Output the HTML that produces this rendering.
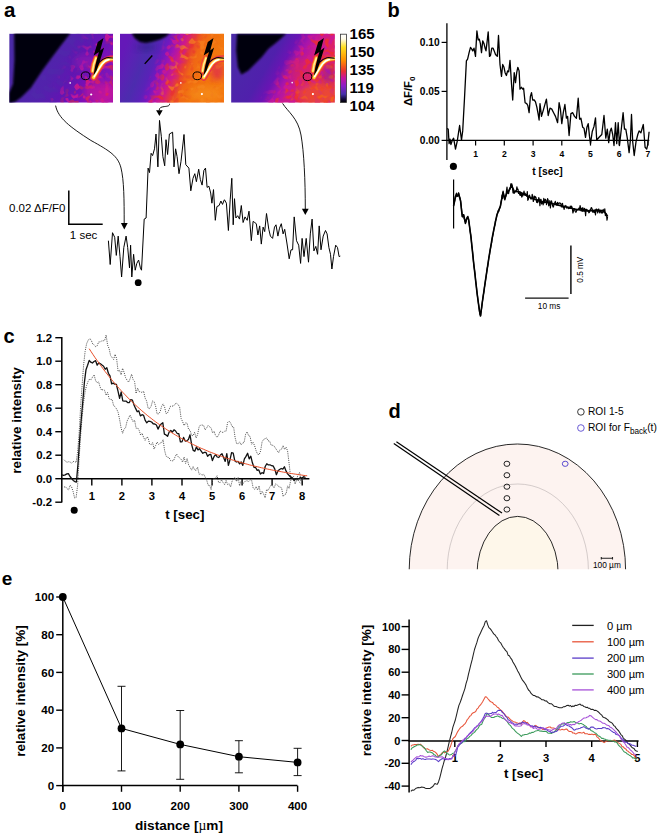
<!DOCTYPE html>
<html><head><meta charset="utf-8"><style>
html,body{margin:0;padding:0;background:#fff;}
body{width:660px;height:838px;overflow:hidden;}
svg{display:block;}
text{font-family:"Liberation Sans",sans-serif;fill:#000;}
</style></head><body>
<svg width="660" height="838" viewBox="0 0 660 838">
<defs>
<linearGradient id="cbar" x1="0" y1="0" x2="0" y2="1">
 <stop offset="0" stop-color="#ffffff"/><stop offset="0.07" stop-color="#fffbe8"/>
 <stop offset="0.19" stop-color="#ffe020"/><stop offset="0.38" stop-color="#ff9000"/>
 <stop offset="0.54" stop-color="#ea3030"/><stop offset="0.64" stop-color="#c8149c"/>
 <stop offset="0.76" stop-color="#8a1cc8"/><stop offset="0.88" stop-color="#4430a8"/>
 <stop offset="0.95" stop-color="#140a40"/><stop offset="1" stop-color="#000"/>
</linearGradient>
<filter id="blur1" x="-20%" y="-20%" width="140%" height="140%"><feGaussianBlur stdDeviation="1.2"/></filter>
<filter id="blur2" x="-30%" y="-30%" width="160%" height="160%"><feGaussianBlur stdDeviation="3"/></filter>
<filter id="blur4" x="-50%" y="-50%" width="200%" height="200%"><feGaussianBlur stdDeviation="5"/></filter>
<linearGradient id="g1" gradientUnits="userSpaceOnUse" x1="9.2" y1="68" x2="112.8" y2="68" gradientTransform="rotate(30,61,68)"><stop offset="0" stop-color="#4a2aa8"/><stop offset="0.45" stop-color="#5222ac"/><stop offset="0.62" stop-color="#6016b2"/><stop offset="0.78" stop-color="#7410b8"/><stop offset="0.92" stop-color="#9012b8"/><stop offset="1" stop-color="#a814b0"/></linearGradient><linearGradient id="g2" gradientUnits="userSpaceOnUse" x1="120.1" y1="68" x2="223.6" y2="68" gradientTransform="rotate(22,172,68)"><stop offset="0" stop-color="#6418b8"/><stop offset="0.1" stop-color="#5a22b4"/><stop offset="0.22" stop-color="#4c2cae"/><stop offset="0.32" stop-color="#5a22b8"/><stop offset="0.38" stop-color="#7218c0"/><stop offset="0.46" stop-color="#a814b0"/><stop offset="0.53" stop-color="#d41c80"/><stop offset="0.6" stop-color="#e84030"/><stop offset="0.67" stop-color="#f06616"/><stop offset="0.78" stop-color="#f2740e"/><stop offset="1" stop-color="#f47a10"/></linearGradient><linearGradient id="g3" gradientUnits="userSpaceOnUse" x1="231.1" y1="68" x2="334.6" y2="68" gradientTransform="rotate(30,283,68)"><stop offset="0" stop-color="#4a2aa8"/><stop offset="0.36" stop-color="#5020ac"/><stop offset="0.48" stop-color="#6a14b4"/><stop offset="0.58" stop-color="#a814ac"/><stop offset="0.68" stop-color="#cc1a8c"/><stop offset="0.8" stop-color="#dc2268"/><stop offset="1" stop-color="#e43050"/></linearGradient><filter id="sm1" x="0" y="0" width="1" height="1" color-interpolation-filters="sRGB"><feTurbulence type="fractalNoise" baseFrequency="0.2" numOctaves="1" seed="3" result="n"/><feColorMatrix in="n" type="matrix" values="0 0 0 0 0.784 0 0 0 0 0.094 0 0 0 0 0.588 9.0 0 0 0 -5.040" result="c"/><feComposite in="c" in2="SourceAlpha" operator="in"/></filter><filter id="sr1" x="0" y="0" width="1" height="1" color-interpolation-filters="sRGB"><feTurbulence type="fractalNoise" baseFrequency="0.2" numOctaves="1" seed="7" result="n"/><feColorMatrix in="n" type="matrix" values="0 0 0 0 0.910 0 0 0 0 0.157 0 0 0 0 0.235 9.0 0 0 0 -5.040" result="c"/><feComposite in="c" in2="SourceAlpha" operator="in"/></filter><filter id="so1" x="0" y="0" width="1" height="1" color-interpolation-filters="sRGB"><feTurbulence type="fractalNoise" baseFrequency="0.2" numOctaves="1" seed="11" result="n"/><feColorMatrix in="n" type="matrix" values="0 0 0 0 0.957 0 0 0 0 0.431 0 0 0 0 0.078 9.0 0 0 0 -5.220" result="c"/><feComposite in="c" in2="SourceAlpha" operator="in"/></filter><filter id="sb1" x="0" y="0" width="1" height="1" color-interpolation-filters="sRGB"><feTurbulence type="fractalNoise" baseFrequency="0.16" numOctaves="1" seed="5" result="n"/><feColorMatrix in="n" type="matrix" values="0 0 0 0 0.314 0 0 0 0 0.157 0 0 0 0 0.667 9.0 0 0 0 -4.500" result="c"/><feComposite in="c" in2="SourceAlpha" operator="in"/></filter><filter id="sm2" x="0" y="0" width="1" height="1" color-interpolation-filters="sRGB"><feTurbulence type="fractalNoise" baseFrequency="0.2" numOctaves="1" seed="13" result="n"/><feColorMatrix in="n" type="matrix" values="0 0 0 0 0.784 0 0 0 0 0.094 0 0 0 0 0.588 9.0 0 0 0 -4.680" result="c"/><feComposite in="c" in2="SourceAlpha" operator="in"/></filter><filter id="sr2" x="0" y="0" width="1" height="1" color-interpolation-filters="sRGB"><feTurbulence type="fractalNoise" baseFrequency="0.2" numOctaves="1" seed="17" result="n"/><feColorMatrix in="n" type="matrix" values="0 0 0 0 0.910 0 0 0 0 0.173 0 0 0 0 0.204 9.0 0 0 0 -4.950" result="c"/><feComposite in="c" in2="SourceAlpha" operator="in"/></filter><filter id="so2" x="0" y="0" width="1" height="1" color-interpolation-filters="sRGB"><feTurbulence type="fractalNoise" baseFrequency="0.2" numOctaves="1" seed="19" result="n"/><feColorMatrix in="n" type="matrix" values="0 0 0 0 0.965 0 0 0 0 0.510 0 0 0 0 0.118 9.0 0 0 0 -5.040" result="c"/><feComposite in="c" in2="SourceAlpha" operator="in"/></filter><filter id="sm3" x="0" y="0" width="1" height="1" color-interpolation-filters="sRGB"><feTurbulence type="fractalNoise" baseFrequency="0.2" numOctaves="1" seed="23" result="n"/><feColorMatrix in="n" type="matrix" values="0 0 0 0 0.800 0 0 0 0 0.094 0 0 0 0 0.588 9.0 0 0 0 -4.680" result="c"/><feComposite in="c" in2="SourceAlpha" operator="in"/></filter><filter id="sr3" x="0" y="0" width="1" height="1" color-interpolation-filters="sRGB"><feTurbulence type="fractalNoise" baseFrequency="0.2" numOctaves="1" seed="29" result="n"/><feColorMatrix in="n" type="matrix" values="0 0 0 0 0.925 0 0 0 0 0.173 0 0 0 0 0.220 9.0 0 0 0 -4.860" result="c"/><feComposite in="c" in2="SourceAlpha" operator="in"/></filter><filter id="so3" x="0" y="0" width="1" height="1" color-interpolation-filters="sRGB"><feTurbulence type="fractalNoise" baseFrequency="0.2" numOctaves="1" seed="31" result="n"/><feColorMatrix in="n" type="matrix" values="0 0 0 0 0.957 0 0 0 0 0.392 0 0 0 0 0.094 9.0 0 0 0 -5.130" result="c"/><feComposite in="c" in2="SourceAlpha" operator="in"/></filter><linearGradient id="a1m" gradientUnits="userSpaceOnUse" x1="9.2" y1="68" x2="112.8" y2="68" gradientTransform="rotate(30,61,68)"><stop offset="0" stop-color="#fff" stop-opacity="0"/><stop offset="0.5" stop-color="#fff" stop-opacity="0"/><stop offset="0.7" stop-color="#fff" stop-opacity="0.85"/><stop offset="1" stop-color="#fff" stop-opacity="1"/></linearGradient><linearGradient id="a1r" gradientUnits="userSpaceOnUse" x1="9.2" y1="68" x2="112.8" y2="68" gradientTransform="rotate(40,61,68)"><stop offset="0" stop-color="#fff" stop-opacity="0"/><stop offset="0.62" stop-color="#fff" stop-opacity="0"/><stop offset="0.85" stop-color="#fff" stop-opacity="0.7"/><stop offset="1" stop-color="#fff" stop-opacity="0.9"/></linearGradient><linearGradient id="a1b" gradientUnits="userSpaceOnUse" x1="9.2" y1="68" x2="112.8" y2="68" gradientTransform="rotate(30,61,68)"><stop offset="0" stop-color="#fff" stop-opacity="0"/><stop offset="0.25" stop-color="#fff" stop-opacity="0"/><stop offset="0.4" stop-color="#fff" stop-opacity="0.8"/><stop offset="0.6" stop-color="#fff" stop-opacity="0.3"/><stop offset="1" stop-color="#fff" stop-opacity="0"/></linearGradient><linearGradient id="a2m" gradientUnits="userSpaceOnUse" x1="120.1" y1="68" x2="223.6" y2="68" gradientTransform="rotate(20,172,68)"><stop offset="0" stop-color="#fff" stop-opacity="0"/><stop offset="0.32" stop-color="#fff" stop-opacity="0"/><stop offset="0.42" stop-color="#fff" stop-opacity="0.9"/><stop offset="0.54" stop-color="#fff" stop-opacity="0.5"/><stop offset="0.64" stop-color="#fff" stop-opacity="0"/><stop offset="1" stop-color="#fff" stop-opacity="0"/></linearGradient><linearGradient id="a2r" gradientUnits="userSpaceOnUse" x1="120.1" y1="68" x2="223.6" y2="68" gradientTransform="rotate(20,172,68)"><stop offset="0" stop-color="#fff" stop-opacity="0"/><stop offset="0.37" stop-color="#fff" stop-opacity="0"/><stop offset="0.49" stop-color="#fff" stop-opacity="0.9"/><stop offset="0.62" stop-color="#fff" stop-opacity="0.5"/><stop offset="0.74" stop-color="#fff" stop-opacity="0.1"/><stop offset="1" stop-color="#fff" stop-opacity="0.1"/></linearGradient><linearGradient id="a2o" gradientUnits="userSpaceOnUse" x1="120.1" y1="68" x2="223.6" y2="68" gradientTransform="rotate(20,172,68)"><stop offset="0" stop-color="#fff" stop-opacity="0"/><stop offset="0.44" stop-color="#fff" stop-opacity="0"/><stop offset="0.54" stop-color="#fff" stop-opacity="0.7"/><stop offset="1" stop-color="#fff" stop-opacity="0.6"/></linearGradient><linearGradient id="a3m" gradientUnits="userSpaceOnUse" x1="231.1" y1="68" x2="334.6" y2="68" gradientTransform="rotate(30,283,68)"><stop offset="0" stop-color="#fff" stop-opacity="0"/><stop offset="0.45" stop-color="#fff" stop-opacity="0"/><stop offset="0.6" stop-color="#fff" stop-opacity="0.9"/><stop offset="1" stop-color="#fff" stop-opacity="0.9"/></linearGradient><linearGradient id="a3r" gradientUnits="userSpaceOnUse" x1="231.1" y1="68" x2="334.6" y2="68" gradientTransform="rotate(30,283,68)"><stop offset="0" stop-color="#fff" stop-opacity="0"/><stop offset="0.5" stop-color="#fff" stop-opacity="0"/><stop offset="0.65" stop-color="#fff" stop-opacity="0.9"/><stop offset="1" stop-color="#fff" stop-opacity="1"/></linearGradient><linearGradient id="a3o" gradientUnits="userSpaceOnUse" x1="231.1" y1="68" x2="334.6" y2="68" gradientTransform="rotate(45,283,68)"><stop offset="0" stop-color="#fff" stop-opacity="0"/><stop offset="0.65" stop-color="#fff" stop-opacity="0"/><stop offset="0.85" stop-color="#fff" stop-opacity="0.7"/><stop offset="1" stop-color="#fff" stop-opacity="0.9"/></linearGradient><clipPath id="clip1"><rect x="9.2" y="33.6" width="103.8" height="69.1"/></clipPath><clipPath id="clip2"><rect x="120.0" y="33.6" width="104.0" height="69.1"/></clipPath><clipPath id="clip3"><rect x="231.1" y="33.6" width="103.8" height="69.1"/></clipPath><clipPath id="dclip"><rect x="380" y="380" width="280" height="189.2"/></clipPath></defs>
<text x="3.9" y="16.8" font-size="20.5" font-weight="bold" text-anchor="start" >a</text>
<text x="387.6" y="17.2" font-size="20" font-weight="bold" text-anchor="start" >b</text>
<text x="3.6" y="342.6" font-size="20" font-weight="bold" text-anchor="start" >c</text>
<text x="388.6" y="417.6" font-size="20" font-weight="bold" text-anchor="start" >d</text>
<text x="1.8" y="584.8" font-size="19" font-weight="bold" text-anchor="start" >e</text>
<g clip-path="url(#clip1)">
<rect x="9.2" y="33.6" width="103.8" height="69.1" fill="url(#g1)"/>
<rect x="9.2" y="33.6" width="103.6" height="69.1" fill="url(#a1b)" filter="url(#sb1)" opacity="1"/>
<rect x="9.2" y="33.6" width="103.6" height="69.1" fill="url(#a1m)" filter="url(#sm1)" opacity="1"/>
<rect x="9.2" y="33.6" width="103.6" height="69.1" fill="url(#a1r)" filter="url(#sr1)" opacity="1"/>
<ellipse cx="100" cy="92" rx="16" ry="11" fill="#d01890" opacity="0.55" filter="url(#blur2)"/>
<ellipse cx="86" cy="62" rx="12" ry="8" fill="#a014b0" opacity="0.5" filter="url(#blur2)"/>
<ellipse cx="108" cy="75" rx="6" ry="8" fill="#6a18c0" opacity="0.6" filter="url(#blur2)"/>
<circle cx="70.2" cy="82.9" r="0.9" fill="#fff" opacity="0.85"/>
<circle cx="91.2" cy="94.5" r="1.1" fill="#fff"/>
<polygon points="14.2,33.0 70.5,33.0 60.8,45.5 51.8,57.6 42.8,69.7 36.8,78.8 30.7,87.9 21.5,97.0 15.5,101.5 9.0,103.5 9.0,93.0 13.0,84.0 14.5,60.0" fill="#050308" filter="url(#blur1)"/>
<path d="M93.6,77.5 C96.5,72.5 99.5,67.0 102.5,63.0 C105.0,60.3 108.0,58.6 114.0,58.6" stroke="#e8304a" stroke-width="6.5" fill="none" stroke-linecap="round" opacity="0.9"/>
<path d="M92.6,71.0 C93.0,66.0 94.2,62.0 96.0,58.0" stroke="#e8304a" stroke-width="5.5" fill="none" stroke-linecap="round" opacity="0.85"/>
<path d="M92.6,71.0 C93.0,66.0 94.2,62.0 96.0,58.0" stroke="#ff7a20" stroke-width="3.8" fill="none" stroke-linecap="round"/>
<path d="M93.6,77.5 C96.5,72.5 99.5,67.0 102.5,63.0 C105.0,60.3 108.0,58.6 114.0,58.6" stroke="#ff8a18" stroke-width="3.8" fill="none" stroke-linecap="round"/>
<path d="M92.6,71.0 C93.0,66.0 94.2,62.0 96.0,58.0" stroke="#ffc040" stroke-width="2.4" fill="none" stroke-linecap="round"/>
<path d="M93.6,77.5 C96.5,72.5 99.5,67.0 102.5,63.0 C105.0,60.3 108.0,58.6 114.0,58.6" stroke="#ffe050" stroke-width="2.6" fill="none" stroke-linecap="round"/>
<path d="M92.6,71.0 C93.0,66.0 94.2,62.0 96.0,58.0" stroke="#fff0a0" stroke-width="1.3" fill="none" stroke-linecap="round"/>
<path d="M94.3,76.5 C97.0,72.0 99.8,67.0 102.6,63.4 C104.5,61.2 106.5,60.0 109.0,59.6" stroke="#ffffff" stroke-width="1.5" fill="none" stroke-linecap="round"/>
<path d="M99.3,62.2 C101.0,60.5 103.5,58.6 106.5,57.8 C108.5,57.4 111.0,57.8 114.0,58.2" stroke="#100010" stroke-width="1.1" fill="none" stroke-linecap="round"/>
<polygon points="103.5,37.9 100.2,50.4 104.1,47.6 99.6,62.1 96.6,70.4 93.4,75.8 94.9,67.4 96.9,59.1 99.0,51.9 93.7,55.6 97.8,42.1" fill="#000"/>
</g>
<ellipse cx="85.6" cy="75.8" rx="4.3" ry="3.9" fill="none" stroke="#000" stroke-width="1"/>
<g clip-path="url(#clip2)">
<rect x="120.0" y="33.6" width="104.0" height="69.1" fill="url(#g2)"/>
<ellipse cx="146" cy="47" rx="10" ry="4" fill="#2a1c80" opacity="0.5" filter="url(#blur2)"/>
<ellipse cx="217" cy="70" rx="6" ry="9" fill="#e0284c" opacity="0.55" filter="url(#blur2)"/>
<rect x="120.1" y="33.6" width="103.5" height="69.1" fill="url(#a2m)" filter="url(#sm2)" opacity="1"/>
<rect x="120.1" y="33.6" width="103.5" height="69.1" fill="url(#a2r)" filter="url(#sr2)" opacity="1"/>
<rect x="120.1" y="33.6" width="103.5" height="69.1" fill="url(#a2o)" filter="url(#so2)" opacity="1"/>
<ellipse cx="204" cy="94" rx="16" ry="7" fill="#f79a20" opacity="0.45" filter="url(#blur2)"/>
<ellipse cx="217" cy="72" rx="6" ry="8" fill="#e03048" opacity="0.6" filter="url(#blur2)"/>
<line x1="144.7" y1="63.9" x2="152.3" y2="55.5" stroke="#000" stroke-width="1.4"/>
<circle cx="180.8" cy="82.9" r="0.9" fill="#fff" opacity="0.85"/>
<circle cx="201.9" cy="94.1" r="1.1" fill="#fff"/>
<polygon points="131.5,33.0 170.0,33.0 166.0,36.5 160.0,39.5 153.0,41.5 146.0,43.0 140.0,42.0 135.0,38.5" fill="#050308" filter="url(#blur1)"/>
<path d="M203.6,77.5 C206.5,72.5 209.5,67.0 212.5,63.0 C215.0,60.3 218.0,58.6 224.0,58.6" stroke="#e8304a" stroke-width="6.5" fill="none" stroke-linecap="round" opacity="0.9"/>
<path d="M202.6,71.0 C203.0,66.0 204.2,62.0 206.0,58.0" stroke="#e8304a" stroke-width="5.5" fill="none" stroke-linecap="round" opacity="0.85"/>
<path d="M202.6,71.0 C203.0,66.0 204.2,62.0 206.0,58.0" stroke="#ff7a20" stroke-width="3.8" fill="none" stroke-linecap="round"/>
<path d="M203.6,77.5 C206.5,72.5 209.5,67.0 212.5,63.0 C215.0,60.3 218.0,58.6 224.0,58.6" stroke="#ff8a18" stroke-width="3.8" fill="none" stroke-linecap="round"/>
<path d="M202.6,71.0 C203.0,66.0 204.2,62.0 206.0,58.0" stroke="#ffc040" stroke-width="2.4" fill="none" stroke-linecap="round"/>
<path d="M203.6,77.5 C206.5,72.5 209.5,67.0 212.5,63.0 C215.0,60.3 218.0,58.6 224.0,58.6" stroke="#ffe050" stroke-width="2.6" fill="none" stroke-linecap="round"/>
<path d="M202.6,71.0 C203.0,66.0 204.2,62.0 206.0,58.0" stroke="#fff0a0" stroke-width="1.3" fill="none" stroke-linecap="round"/>
<path d="M204.3,76.5 C207.0,72.0 209.8,67.0 212.6,63.4 C214.5,61.2 216.5,60.0 219.0,59.6" stroke="#ffffff" stroke-width="1.5" fill="none" stroke-linecap="round"/>
<path d="M209.3,62.2 C211.0,60.5 213.5,58.6 216.5,57.8 C218.5,57.4 221.0,57.8 224.0,58.2" stroke="#100010" stroke-width="1.1" fill="none" stroke-linecap="round"/>
<polygon points="213.5,37.9 210.2,50.4 214.1,47.6 209.6,62.1 206.6,70.4 203.4,75.8 204.9,67.4 206.9,59.1 209.0,51.9 203.7,55.6 207.8,42.1" fill="#000"/>
</g>
<ellipse cx="197.3" cy="75.8" rx="4.3" ry="3.9" fill="none" stroke="#000" stroke-width="1"/>
<g clip-path="url(#clip3)">
<rect x="231.1" y="33.6" width="103.8" height="69.1" fill="url(#g3)"/>
<rect x="231.1" y="33.6" width="103.5" height="69.1" fill="url(#a3m)" filter="url(#sm3)" opacity="1"/>
<rect x="231.1" y="33.6" width="103.5" height="69.1" fill="url(#a3r)" filter="url(#sr3)" opacity="1"/>
<rect x="231.1" y="33.6" width="103.5" height="69.1" fill="url(#a3o)" filter="url(#so3)" opacity="1"/>
<ellipse cx="318" cy="94" rx="20" ry="12" fill="#f05a20" opacity="0.55" filter="url(#blur2)"/>
<ellipse cx="300" cy="70" rx="12" ry="12" fill="#e02850" opacity="0.45" filter="url(#blur2)"/>
<ellipse cx="328" cy="74" rx="5" ry="9" fill="#7018c0" opacity="0.5" filter="url(#blur2)"/>
<circle cx="292.2" cy="82.6" r="0.9" fill="#fff" opacity="0.85"/>
<circle cx="312.9" cy="94.1" r="1.1" fill="#fff"/>
<polygon points="237.0,33.7 286.2,33.7 276.9,41.9 268.4,48.7 261.6,57.2 254.8,63.9 248.1,70.7 241.3,74.5 237.9,67.3 236.2,50.4" fill="#050308" filter="url(#blur1)"/>
<path d="M314.0,77.5 C316.9,72.5 319.9,67.0 322.9,63.0 C325.4,60.3 328.4,58.6 334.4,58.6" stroke="#e8304a" stroke-width="6.5" fill="none" stroke-linecap="round" opacity="0.9"/>
<path d="M313.0,71.0 C313.4,66.0 314.6,62.0 316.4,58.0" stroke="#e8304a" stroke-width="5.5" fill="none" stroke-linecap="round" opacity="0.85"/>
<path d="M313.0,71.0 C313.4,66.0 314.6,62.0 316.4,58.0" stroke="#ff7a20" stroke-width="3.8" fill="none" stroke-linecap="round"/>
<path d="M314.0,77.5 C316.9,72.5 319.9,67.0 322.9,63.0 C325.4,60.3 328.4,58.6 334.4,58.6" stroke="#ff8a18" stroke-width="3.8" fill="none" stroke-linecap="round"/>
<path d="M313.0,71.0 C313.4,66.0 314.6,62.0 316.4,58.0" stroke="#ffc040" stroke-width="2.4" fill="none" stroke-linecap="round"/>
<path d="M314.0,77.5 C316.9,72.5 319.9,67.0 322.9,63.0 C325.4,60.3 328.4,58.6 334.4,58.6" stroke="#ffe050" stroke-width="2.6" fill="none" stroke-linecap="round"/>
<path d="M313.0,71.0 C313.4,66.0 314.6,62.0 316.4,58.0" stroke="#fff0a0" stroke-width="1.3" fill="none" stroke-linecap="round"/>
<path d="M314.7,76.5 C317.4,72.0 320.2,67.0 323.0,63.4 C324.9,61.2 326.9,60.0 329.4,59.6" stroke="#ffffff" stroke-width="1.5" fill="none" stroke-linecap="round"/>
<path d="M319.7,62.2 C321.4,60.5 323.9,58.6 326.9,57.8 C328.9,57.4 331.4,57.8 334.4,58.2" stroke="#100010" stroke-width="1.1" fill="none" stroke-linecap="round"/>
<polygon points="323.9,37.9 320.6,50.4 324.5,47.6 320.0,62.1 317.0,70.4 313.8,75.8 315.3,67.4 317.3,59.1 319.4,51.9 314.1,55.6 318.2,42.1" fill="#000"/>
</g>
<ellipse cx="307.5" cy="76.7" rx="4.3" ry="3.9" fill="none" stroke="#000" stroke-width="1"/>
<rect x="340.5" y="34.2" width="6.0" height="68.2" fill="url(#cbar)" stroke="#333" stroke-width="0.8"/>
<text x="349.6" y="39.4" font-size="15" font-weight="bold" text-anchor="start" >165</text>
<text x="349.6" y="57.2" font-size="15" font-weight="bold" text-anchor="start" >150</text>
<text x="349.6" y="75.0" font-size="15" font-weight="bold" text-anchor="start" >135</text>
<text x="349.6" y="92.80000000000001" font-size="15" font-weight="bold" text-anchor="start" >119</text>
<text x="349.6" y="110.6" font-size="15" font-weight="bold" text-anchor="start" >104</text>
<polyline points="108.4,240.7 110.2,264.5 112.5,232.7 114.7,237.3 116.3,255.4 118.2,236.1 120.0,256.6 121.6,277.0 123.8,247.5 126.1,236.1 127.7,247.5 129.5,267.9 130.6,245.2 131.8,277.0 133.6,254.3 135.2,270.2 136.8,263.4 138.6,260.0 140.4,267.9 141.5,270.2 144.2,219.1 146.1,218.0 148.1,168.1 149.5,172.6 151.1,153.3 152.6,155.6 154.5,148.8 156.0,134.0 157.9,166.9 159.5,120.4 161.3,136.3 162.9,156.7 164.7,165.8 166.0,139.7 167.6,154.5 169.4,134.0 172.6,132.2 174.0,166.9 175.6,148.8 177.1,156.7 179.0,173.7 181.0,161.3 184.0,134.5 185.8,164.7 188.9,168.1 190.8,190.8 193.0,178.3 194.8,173.7 196.4,181.7 198.7,169.2 200.3,179.4 202.1,185.1 203.9,170.3 205.5,168.1 207.1,187.4 208.9,186.2 210.7,193.0 211.9,203.2 213.5,189.6 215.3,220.3 216.9,206.6 219.1,205.5 220.9,201.0 222.5,204.4 224.3,199.8 224.5,199.8 226.4,203.2 228.4,230.5 230.2,199.8 231.8,178.3 233.2,224.8 234.5,198.7 235.9,218.0 237.7,215.7 239.5,219.1 241.3,205.5 243.1,222.5 245.0,216.9 247.2,220.3 249.0,211.2 251.3,240.7 253.1,221.4 254.7,222.5 256.3,223.7 257.9,235.0 259.7,225.9 261.3,244.1 263.1,227.1 264.7,231.6 266.5,213.5 268.8,229.3 270.4,236.1 272.6,238.4 274.5,227.1 276.0,224.8 277.9,236.1 279.5,228.2 281.3,223.7 283.1,233.9 284.7,229.3 286.9,243.0 289.2,258.8 291.0,249.8 292.6,249.8 294.2,216.9 296.5,240.7 298.7,245.2 300.6,263.4 302.1,238.4 304.0,256.6 306.2,238.4 308.5,262.2 310.3,233.9 312.1,219.1 313.9,250.9 315.8,246.4 317.6,254.3 319.2,225.9 321.0,249.8 323.2,236.1 325.5,230.5 327.1,233.9 328.9,247.5 330.5,254.3 331.9,269.0 333.5,256.6 335.7,245.2 337.5,247.5 339.1,256.6 340.3,256.1" fill="none" stroke="#000" stroke-width="1" stroke-linejoin="round"/>
<circle cx="138.2" cy="282.7" r="3.4" fill="#000"/>
<path d="M55.6,105.6 C58,118 70,127 90.8,140.4 C110,151 118,156 121,168 C124,180 124.2,200 124.2,223.5" fill="none" stroke="#000" stroke-width="0.9"/>
<path d="M169.5,103.8 C170,106 167,106.3 164.2,106.6 C161,107 159.3,107.6 159.2,110.4" fill="none" stroke="#000" stroke-width="0.9"/>
<path d="M282.6,103.4 C288,112 298,118 301,135 C304,152 305.3,180 305.3,209" fill="none" stroke="#000" stroke-width="0.9"/>
<polygon points="120.89999999999999,223.0 127.7,223.0 124.3,229.6" fill="#000"/>
<polygon points="301.90000000000003,208.8 308.7,208.8 305.3,215.0" fill="#000"/>
<polygon points="156.1,110.2 162.70000000000002,110.2 159.4,116.0" fill="#000"/>
<polyline points="68.8,190.4 68.8,224.3 102.7,224.3" fill="none" stroke="#000" stroke-width="1.5"/>
<text x="65.3" y="212.2" font-size="11.5" text-anchor="end" >0.02 ΔF/F0</text>
<text x="69.8" y="239.0" font-size="11.5" text-anchor="start" >1 sec</text>
<line x1="446.9" y1="23.3" x2="446.9" y2="160" stroke="#000" stroke-width="1.3"/>
<line x1="446.3" y1="140.4" x2="649.3" y2="140.4" stroke="#000" stroke-width="1.3"/>
<line x1="441.6" y1="42.4" x2="446.9" y2="42.4" stroke="#000" stroke-width="1.2"/>
<text x="439.6" y="46.1" font-size="10.2" font-weight="bold" text-anchor="end" >0.10</text>
<line x1="441.6" y1="91.4" x2="446.9" y2="91.4" stroke="#000" stroke-width="1.2"/>
<text x="439.6" y="95.10000000000001" font-size="10.2" font-weight="bold" text-anchor="end" >0.05</text>
<line x1="441.6" y1="140.4" x2="446.9" y2="140.4" stroke="#000" stroke-width="1.2"/>
<text x="439.6" y="144.1" font-size="10.2" font-weight="bold" text-anchor="end" >0.00</text>
<line x1="475.6" y1="140.4" x2="475.6" y2="145.6" stroke="#000" stroke-width="1.2"/>
<text x="475.6" y="156.8" font-size="8.6" font-weight="bold" text-anchor="middle" >1</text>
<line x1="504.3" y1="140.4" x2="504.3" y2="145.6" stroke="#000" stroke-width="1.2"/>
<text x="504.3" y="156.8" font-size="8.6" font-weight="bold" text-anchor="middle" >2</text>
<line x1="533.1" y1="140.4" x2="533.1" y2="145.6" stroke="#000" stroke-width="1.2"/>
<text x="533.1" y="156.8" font-size="8.6" font-weight="bold" text-anchor="middle" >3</text>
<line x1="561.8" y1="140.4" x2="561.8" y2="145.6" stroke="#000" stroke-width="1.2"/>
<text x="561.8" y="156.8" font-size="8.6" font-weight="bold" text-anchor="middle" >4</text>
<line x1="590.5" y1="140.4" x2="590.5" y2="145.6" stroke="#000" stroke-width="1.2"/>
<text x="590.5" y="156.8" font-size="8.6" font-weight="bold" text-anchor="middle" >5</text>
<line x1="619.2" y1="140.4" x2="619.2" y2="145.6" stroke="#000" stroke-width="1.2"/>
<text x="619.2" y="156.8" font-size="8.6" font-weight="bold" text-anchor="middle" >6</text>
<line x1="647.9" y1="140.4" x2="647.9" y2="145.6" stroke="#000" stroke-width="1.2"/>
<text x="647.9" y="156.8" font-size="8.6" font-weight="bold" text-anchor="middle" >7</text>
<text x="547.5" y="174.6" font-size="10.3" font-weight="bold" text-anchor="middle" >t [sec]</text>
<text transform="translate(412.1,91.3) rotate(-90)" font-size="11.3" font-weight="bold" text-anchor="middle">ΔF/F<tspan font-size="8" dy="3">0</tspan></text>
<polyline points="446.9,128.7 448.2,129.1 449.1,143.6 450.0,139.1 450.9,144.5 452.4,140.0 453.6,138.2 455.5,149.1 457.3,140.9 459.6,125.5 461.5,140.0 462.7,130.9 464.5,98.2 466.4,60.9 467.6,59.1 469.1,52.7 470.5,47.3 471.8,49.1 472.7,50.9 474.0,48.2 475.5,56.4 476.9,30.9 478.2,40.0 479.3,39.1 480.4,43.6 481.5,52.7 482.7,40.9 484.0,43.6 485.1,48.2 486.0,50.9 487.3,40.0 488.2,31.8 489.5,56.4 490.5,55.5 491.8,48.2 493.1,48.2 494.2,50.9 495.5,54.5 497.3,56.4 498.5,35.5 500.0,64.5 501.5,76.4 502.7,64.5 504.0,67.3 505.1,72.7 506.4,75.5 507.6,70.9 508.7,71.8 510.0,60.4 511.5,83.6 512.7,100.0 514.2,72.7 515.5,82.7 516.7,72.7 517.8,67.3 519.1,70.9 520.0,89.1 521.5,87.3 522.7,89.1 523.6,88.2 525.1,102.7 526.7,103.6 527.8,105.5 529.1,112.7 530.4,96.4 531.5,92.7 532.7,100.0 534.2,100.0 535.5,101.8 536.9,107.3 538.2,114.5 539.1,120.0 540.0,103.6 541.5,116.4 543.6,109.1 546.4,99.1 548.2,115.5 550.0,108.2 551.8,109.1 553.6,112.7 555.5,116.4 557.6,122.7 559.1,102.7 560.4,109.1 561.8,123.6 563.3,112.7 564.9,104.5 566.4,118.2 567.6,116.4 569.1,135.5 570.9,113.6 572.7,112.7 574.5,116.4 576.4,118.2 578.2,98.2 579.6,119.1 580.9,118.2 582.7,127.3 584.0,128.2 585.5,137.3 586.9,127.3 588.2,123.6 589.5,136.4 590.5,143.6 592.2,131.8 594.0,126.4 595.5,117.8 596.7,140.0 599.1,137.3 601.8,134.5 604.0,115.5 605.8,138.2 607.3,129.1 608.7,142.7 610.0,131.8 611.3,128.2 612.7,134.5 614.0,145.5 615.5,122.7 616.7,143.6 618.2,122.7 619.5,145.5 620.9,132.7 621.8,124.5 623.1,112.7 624.5,129.1 625.8,129.1 627.3,138.2 629.1,152.7 630.4,140.0 631.5,114.5 632.7,141.8 634.2,155.5 636.0,141.8 637.8,134.5 639.1,130.9 640.9,132.7 643.3,124.5 645.1,147.3 646.7,149.1 647.8,144.5 649.1,131.8" fill="none" stroke="#000" stroke-width="1.3" stroke-linejoin="round"/>
<circle cx="453.4" cy="166.4" r="3.55" fill="#000"/>
<line x1="453.6" y1="179.5" x2="453.6" y2="228.6" stroke="#000" stroke-width="1.2"/>
<polyline points="453.6,204.9 454.2,202.2 454.7,201.1 455.3,196.1 455.8,196.1 456.4,193.0 456.9,196.5 457.5,196.1 458.0,195.8 458.6,192.9 459.1,195.8 459.7,197.2 460.2,198.8 460.8,202.6 461.3,206.9 461.9,212.5 462.4,217.0 463.0,215.8 463.5,214.7 464.1,218.5 464.6,219.4 465.2,221.6 465.7,222.4 466.3,219.8 466.8,218.2 467.4,217.1 467.9,218.7 468.5,219.0 469.0,222.4 469.6,227.0 470.1,231.5 470.7,234.6 471.2,238.9 471.8,245.8 472.3,249.2 472.9,255.0 473.4,260.9 474.0,266.6 474.5,269.9 475.1,274.1 475.6,280.5 476.2,284.8 476.7,289.7 477.3,294.7 477.8,298.8 478.4,303.0 478.9,306.6 479.5,311.3 480.0,314.4 480.6,315.6 481.1,311.3 481.7,307.6 482.2,303.2 482.8,298.7 483.3,295.2 483.9,292.1 484.4,287.7 485.0,283.8 485.5,280.3 486.1,276.5 486.6,272.8 487.2,268.2 487.7,266.4 488.3,262.0 488.8,257.8 489.4,255.3 489.9,251.7 490.5,248.3 491.0,245.6 491.6,242.9 492.1,238.8 492.7,236.2 493.2,233.8 493.8,229.5 494.3,227.1 494.9,225.1 495.4,221.2 496.0,219.3 496.5,217.4 497.1,214.9 497.6,213.3 498.2,210.7 498.7,211.5 499.3,209.2 499.8,208.0 500.4,206.5 500.9,202.6 501.5,199.8 502.0,195.2 502.6,198.5 503.1,191.0 503.7,194.4 504.2,196.5 504.8,200.0 505.3,198.2 505.9,196.2 506.4,191.5 507.0,187.0 507.5,192.9 508.1,192.4 508.6,193.6 509.2,190.1 509.7,188.0 510.3,188.9 510.8,183.9 511.4,183.8 511.9,184.1 512.5,187.9 513.0,192.8 513.6,191.4 514.1,193.5 514.7,191.9 515.2,192.0 515.8,190.6 516.3,191.0 516.9,186.8 517.4,189.3 518.0,189.1 518.5,193.4 519.1,193.1 519.6,194.3 520.2,195.4 520.7,192.0 521.3,195.0 521.8,197.1 522.4,193.4 522.9,195.9 523.5,193.6 524.0,191.0 524.6,194.8 525.1,193.2 525.7,195.3 526.2,194.4 526.8,196.3 527.3,191.6 527.8,200.3 528.4,199.2 528.9,196.0 529.5,195.2 530.0,197.3 530.6,198.9 531.1,198.7 531.7,198.9 532.2,194.4 532.8,196.4 533.3,201.5 533.9,199.5 534.4,196.2 535.0,197.6 535.5,196.7 536.1,197.7 536.6,202.3 537.2,199.7 537.7,202.6 538.3,200.9 538.8,197.7 539.4,199.6 539.9,205.7 540.5,199.7 541.0,199.3 541.6,204.0 542.1,201.8 542.7,201.7 543.2,204.8 543.8,198.3 544.3,202.8 544.9,199.9 545.4,199.3 546.0,200.5 546.5,204.6 547.1,202.1 547.6,198.7 548.2,200.3 548.7,205.8 549.3,204.8 549.8,200.7 550.4,208.0 550.9,202.4 551.5,200.9 552.0,203.2 552.6,205.6 553.1,207.1 553.7,206.0 554.2,203.2 554.8,203.1 555.3,201.4 555.9,204.4 556.4,203.5 557.0,205.3 557.5,202.4 558.1,204.0 558.6,203.4 559.2,202.9 559.7,203.1 560.3,203.5 560.8,203.3 561.4,207.0 561.9,206.2 562.5,203.4 563.0,207.3 563.6,207.0 564.1,209.5 564.7,206.2 565.2,206.3 565.8,205.5 566.3,207.3 566.9,208.2 567.4,207.7 568.0,206.9 568.5,208.7 569.1,207.9 569.6,208.3 570.2,206.1 570.7,208.5 571.3,206.2 571.8,206.7 572.4,208.8 572.9,213.0 573.5,210.8 574.0,208.9 574.6,208.7 575.1,211.2 575.7,212.2 576.2,212.0 576.8,209.2 577.3,210.0 577.9,209.0 578.4,209.2 579.0,208.1 579.5,209.4 580.1,205.6 580.6,207.6 581.2,211.0 581.7,208.3 582.3,211.4 582.8,207.7 583.4,209.6 583.9,211.3 584.5,208.4 585.0,209.2 585.6,215.7 586.1,209.4 586.7,209.4 587.2,209.7 587.8,210.9 588.3,210.8 588.9,212.8 589.4,212.4 590.0,209.9 590.5,210.0 591.1,207.8 591.6,207.6 592.2,209.1 592.7,212.1 593.3,210.8 593.8,212.2 594.4,212.5 594.9,210.2 595.5,214.8 596.0,209.4 596.6,209.1 597.1,209.5 597.7,212.8 598.2,210.2 598.8,209.0 599.3,211.5 599.9,212.9 600.4,210.4 601.0,210.2 601.5,213.0 602.1,212.8 602.6,212.8 603.2,209.3 603.7,211.7 604.3,212.5 604.8,208.8 605.4,215.6 605.9,214.0 606.5,213.9 607.0,220.1 607.6,216.6" fill="none" stroke="#000" stroke-width="1.2" stroke-linejoin="round"/>
<polyline points="453.6,206.0 455.0,199.0 456.2,194.9 457.5,196.0 458.5,193.2 460.6,201.0 461.5,210.0 462.3,216.5 463.7,214.8 465.4,223.4 466.6,219.0 467.8,216.5 468.7,220.0 471.0,237.3 473.5,261.5 477.0,292.6 478.5,304.0 479.6,311.7 480.5,316.0 481.3,310.0 482.2,303.0 485.7,278.8 489.1,256.3 492.6,235.6 496.9,214.8 500.4,206.1 503.0,192.3 504.7,199.0 506.4,194.0 509.0,190.6 511.6,185.4 514.2,191.4 519.1,191.8 524.5,194.5 532.7,198.6 540.9,201.4 549.1,202.7 557.3,204.9 565.4,206.8 576.4,209.5 587.3,210.9 596.8,210.4 603.6,210.9 605.8,213.6 607.7,216.4" fill="none" stroke="#000" stroke-width="1.6" stroke-linejoin="round"/>
<line x1="570.9" y1="245.6" x2="570.9" y2="294.0" stroke="#111" stroke-width="1.5"/>
<line x1="525.1" y1="298.1" x2="568.6" y2="298.1" stroke="#111" stroke-width="1.4"/>
<text x="549.1" y="308.6" font-size="8.3" text-anchor="middle" >10 ms</text>
<text transform="translate(582.5,269.7) rotate(-90)" font-size="8.2" text-anchor="middle">0.5 mV</text>
<line x1="61.8" y1="337.0" x2="61.8" y2="502.4" stroke="#000" stroke-width="1.5"/>
<line x1="61.099999999999994" y1="478.7" x2="309.4" y2="478.7" stroke="#000" stroke-width="1.5"/>
<line x1="55.3" y1="337.7" x2="61.8" y2="337.7" stroke="#000" stroke-width="1.4"/>
<text x="52.0" y="341.7" font-size="11.4" font-weight="bold" text-anchor="end" >1.2</text>
<line x1="55.3" y1="361.2" x2="61.8" y2="361.2" stroke="#000" stroke-width="1.4"/>
<text x="52.0" y="365.2" font-size="11.4" font-weight="bold" text-anchor="end" >1.0</text>
<line x1="55.3" y1="384.7" x2="61.8" y2="384.7" stroke="#000" stroke-width="1.4"/>
<text x="52.0" y="388.7" font-size="11.4" font-weight="bold" text-anchor="end" >0.8</text>
<line x1="55.3" y1="408.2" x2="61.8" y2="408.2" stroke="#000" stroke-width="1.4"/>
<text x="52.0" y="412.2" font-size="11.4" font-weight="bold" text-anchor="end" >0.6</text>
<line x1="55.3" y1="431.7" x2="61.8" y2="431.7" stroke="#000" stroke-width="1.4"/>
<text x="52.0" y="435.7" font-size="11.4" font-weight="bold" text-anchor="end" >0.4</text>
<line x1="55.3" y1="455.2" x2="61.8" y2="455.2" stroke="#000" stroke-width="1.4"/>
<text x="52.0" y="459.2" font-size="11.4" font-weight="bold" text-anchor="end" >0.2</text>
<line x1="55.3" y1="478.7" x2="61.8" y2="478.7" stroke="#000" stroke-width="1.4"/>
<text x="52.0" y="482.7" font-size="11.4" font-weight="bold" text-anchor="end" >0.0</text>
<line x1="55.3" y1="502.2" x2="61.8" y2="502.2" stroke="#000" stroke-width="1.4"/>
<text x="52.0" y="506.2" font-size="11.4" font-weight="bold" text-anchor="end" >-0.2</text>
<line x1="91.8" y1="478.7" x2="91.8" y2="485.4" stroke="#000" stroke-width="1.4"/>
<text x="91.8" y="499.5" font-size="11.2" font-weight="bold" text-anchor="middle" >1</text>
<line x1="121.9" y1="478.7" x2="121.9" y2="485.4" stroke="#000" stroke-width="1.4"/>
<text x="121.9" y="499.5" font-size="11.2" font-weight="bold" text-anchor="middle" >2</text>
<line x1="151.9" y1="478.7" x2="151.9" y2="485.4" stroke="#000" stroke-width="1.4"/>
<text x="151.9" y="499.5" font-size="11.2" font-weight="bold" text-anchor="middle" >3</text>
<line x1="182.0" y1="478.7" x2="182.0" y2="485.4" stroke="#000" stroke-width="1.4"/>
<text x="182.0" y="499.5" font-size="11.2" font-weight="bold" text-anchor="middle" >4</text>
<line x1="212.1" y1="478.7" x2="212.1" y2="485.4" stroke="#000" stroke-width="1.4"/>
<text x="212.1" y="499.5" font-size="11.2" font-weight="bold" text-anchor="middle" >5</text>
<line x1="242.1" y1="478.7" x2="242.1" y2="485.4" stroke="#000" stroke-width="1.4"/>
<text x="242.1" y="499.5" font-size="11.2" font-weight="bold" text-anchor="middle" >6</text>
<line x1="272.1" y1="478.7" x2="272.1" y2="485.4" stroke="#000" stroke-width="1.4"/>
<text x="272.1" y="499.5" font-size="11.2" font-weight="bold" text-anchor="middle" >7</text>
<line x1="302.2" y1="478.7" x2="302.2" y2="485.4" stroke="#000" stroke-width="1.4"/>
<text x="302.2" y="499.5" font-size="11.2" font-weight="bold" text-anchor="middle" >8</text>
<text x="184.8" y="519.2" font-size="13.3" font-weight="bold" text-anchor="middle" >t [sec]</text>
<text transform="translate(21.4,420.4) rotate(-90)" font-size="13.5" font-weight="bold" text-anchor="middle">relative intensity</text>
<polyline points="64.1,459.8 65.6,461.4 67.1,462.3 68.6,461.7 70.1,462.0 71.6,463.2 73.1,461.6 74.6,461.3 76.1,462.5 77.6,452.1 79.1,433.6 80.6,407.2 82.1,385.6 83.6,365.1 85.1,351.5 86.6,343.7 88.1,340.4 89.6,338.6 91.1,339.8 92.6,343.8 94.1,344.8 95.6,346.7 97.1,345.9 98.6,342.0 100.1,341.9 101.6,341.0 103.1,340.8 104.6,340.5 106.1,335.1 107.6,345.1 109.1,348.6 110.6,355.6 112.1,357.5 113.6,359.5 115.1,354.3 116.6,358.5 118.1,371.4 119.6,370.3 121.1,374.9 122.6,368.3 124.1,372.4 125.6,377.7 127.1,380.2 128.6,382.2 130.1,378.7 131.6,374.2 133.1,379.5 134.6,381.6 136.1,393.5 137.6,388.0 139.1,391.7 140.6,391.6 142.1,392.7 143.6,391.1 145.1,398.1 146.6,400.9 148.1,408.2 149.6,408.6 151.1,406.2 152.6,400.9 154.1,401.8 155.6,406.0 157.1,414.0 158.6,413.8 160.1,411.9 161.6,406.3 163.1,403.9 164.6,407.1 166.1,413.8 167.6,412.8 169.1,409.3 170.6,406.1 172.1,406.1 173.6,406.0 175.1,403.9 176.6,403.1 178.1,404.7 179.6,406.7 181.1,418.4 182.6,421.6 184.1,425.6 185.6,422.9 187.1,423.2 188.6,429.5 190.1,430.3 191.6,435.4 193.1,435.7 194.6,432.2 196.1,438.0 197.6,434.5 199.1,426.9 200.6,424.9 202.1,425.1 203.6,425.3 205.1,429.9 206.6,428.0 208.1,425.4 209.6,426.8 211.1,427.9 212.6,433.0 214.1,431.2 215.6,435.7 217.1,437.3 218.6,435.1 220.1,431.1 221.6,431.9 223.1,432.6 224.6,431.2 226.1,431.1 227.6,422.5 229.1,421.0 230.6,422.9 232.1,426.6 233.6,426.8 235.1,437.6 236.6,443.6 238.1,443.7 239.6,441.9 241.1,444.9 242.6,443.0 244.1,442.5 245.6,434.3 247.1,431.8 248.6,435.7 250.1,436.4 251.6,444.3 253.1,442.3 254.6,445.7 256.1,450.8 257.6,454.2 259.1,454.7 260.6,451.0 262.1,441.7 263.6,439.5 265.1,438.7 266.6,437.9 268.1,440.8 269.6,441.0 271.1,445.2 272.6,445.3 274.1,446.0 275.6,448.4 277.1,450.5 278.6,452.8 280.1,449.6 281.6,449.1 283.1,445.6 284.6,449.5 286.1,447.2 287.6,451.0 289.1,463.5 290.6,476.9 292.1,476.7 293.6,476.4 295.1,484.1 296.6,479.5 298.1,474.4 299.6,472.4 301.1,481.6 302.6,479.7 304.1,475.1 305.6,477.7" fill="none" stroke="#555" stroke-width="1" stroke-dasharray="1.1 1.1"/>
<polyline points="64.1,487.0 65.6,486.8 67.1,488.8 68.6,490.0 70.1,485.2 71.6,487.0 73.1,491.5 74.6,498.0 76.1,497.7 77.6,485.5 79.1,458.7 80.6,435.8 82.1,417.3 83.6,402.0 85.1,391.7 86.6,385.4 88.1,381.4 89.6,379.0 91.1,379.7 92.6,376.9 94.1,374.8 95.6,380.6 97.1,382.8 98.6,381.8 100.1,386.9 101.6,390.4 103.1,389.4 104.6,390.3 106.1,395.3 107.6,392.3 109.1,398.7 110.6,399.4 112.1,399.5 113.6,405.6 115.1,406.8 116.6,409.0 118.1,412.3 119.6,419.4 121.1,428.0 122.6,433.3 124.1,429.1 125.6,427.5 127.1,421.1 128.6,418.0 130.1,415.0 131.6,418.7 133.1,421.7 134.6,420.1 136.1,428.3 137.6,427.9 139.1,430.2 140.6,435.1 142.1,433.3 143.6,437.4 145.1,440.4 146.6,437.2 148.1,437.6 149.6,444.0 151.1,444.8 152.6,442.5 154.1,449.1 155.6,445.6 157.1,442.0 158.6,444.4 160.1,443.0 161.6,442.8 163.1,439.6 164.6,450.4 166.1,456.2 167.6,457.2 169.1,457.6 170.6,460.6 172.1,460.9 173.6,460.6 175.1,456.8 176.6,454.0 178.1,456.7 179.6,457.8 181.1,459.3 182.6,462.2 184.1,457.0 185.6,463.5 187.1,458.5 188.6,464.8 190.1,467.4 191.6,470.1 193.1,466.5 194.6,469.9 196.1,470.3 197.6,467.2 199.1,474.3 200.6,473.9 202.1,475.2 203.6,474.1 205.1,476.9 206.6,479.7 208.1,485.2 209.6,485.1 211.1,489.6 212.6,479.7 214.1,478.6 215.6,478.1 217.1,475.7 218.6,482.4 220.1,482.6 221.6,479.8 223.1,482.6 224.6,484.7 226.1,480.4 227.6,484.6 229.1,483.8 230.6,487.0 232.1,481.2 233.6,478.4 235.1,477.4 236.6,481.6 238.1,477.2 239.6,485.8 241.1,481.0 242.6,483.8 244.1,482.7 245.6,480.8 247.1,480.8 248.6,481.6 250.1,479.6 251.6,480.1 253.1,487.7 254.6,489.5 256.1,486.6 257.6,490.1 259.1,485.8 260.6,494.6 262.1,491.3 263.6,493.9 265.1,497.9 266.6,489.5 268.1,490.6 269.6,487.4 271.1,485.1 272.6,485.7 274.1,487.9 275.6,483.9 277.1,484.6 278.6,486.6 280.1,487.1 281.6,487.8 283.1,496.5 284.6,494.3 286.1,493.9 287.6,485.9 289.1,488.5 290.6,480.8 292.1,478.5 293.6,479.6 295.1,479.3 296.6,480.9 298.1,479.6 299.6,482.3 301.1,483.4 302.6,479.0 304.1,477.1" fill="none" stroke="#555" stroke-width="1" stroke-dasharray="1.1 1.1"/>
<polyline points="62.0,474.9 63.6,475.3 65.2,474.9 66.8,473.9 68.4,473.6 70.0,476.5 71.6,478.5 73.2,480.4 74.8,481.6 76.4,482.1 78.0,463.7 79.6,440.3 81.2,419.7 82.8,401.2 84.4,382.3 86.0,369.7 87.6,365.3 89.2,360.4 90.8,362.2 92.4,363.0 94.0,361.5 95.6,360.7 97.2,365.2 98.8,362.9 100.4,363.8 102.0,365.1 103.6,366.3 105.2,369.3 106.8,367.8 108.4,373.3 110.0,375.8 111.6,383.9 113.2,383.1 114.8,384.2 116.4,384.5 118.0,391.2 119.6,398.3 121.2,392.0 122.8,400.9 124.4,401.1 126.0,401.1 127.6,402.5 129.2,402.7 130.8,399.6 132.4,400.1 134.0,404.9 135.6,408.4 137.2,411.7 138.8,410.9 140.4,415.9 142.0,414.7 143.6,415.4 145.2,420.4 146.8,422.8 148.4,421.1 150.0,421.4 151.6,422.0 153.2,423.8 154.8,424.0 156.4,425.0 158.0,429.1 159.6,425.9 161.2,423.9 162.8,422.7 164.4,434.2 166.0,434.9 167.6,436.3 169.2,431.9 170.8,430.5 172.4,432.0 174.0,429.8 175.6,431.0 177.2,433.5 178.8,433.6 180.4,441.8 182.0,441.9 183.6,437.4 185.2,441.1 186.8,440.8 188.4,439.6 190.0,434.8 191.6,444.4 193.2,450.4 194.8,451.2 196.4,446.9 198.0,449.9 199.6,448.8 201.2,451.1 202.8,453.3 204.4,452.4 206.0,452.4 207.6,456.3 209.2,454.7 210.8,454.3 212.4,460.6 214.0,456.7 215.6,454.7 217.2,457.0 218.8,457.5 220.4,455.1 222.0,453.7 223.6,457.4 225.2,461.4 226.8,453.7 228.4,465.4 230.0,459.7 231.6,452.7 233.2,453.2 234.8,460.8 236.4,462.0 238.0,461.4 239.6,463.9 241.2,462.0 242.8,465.4 244.4,458.9 246.0,456.4 247.6,453.3 249.2,458.9 250.8,456.2 252.4,462.8 254.0,467.3 255.6,467.5 257.2,470.4 258.8,469.9 260.4,474.1 262.0,472.7 263.6,473.5 265.2,466.5 266.8,463.7 268.4,464.9 270.0,464.8 271.6,465.7 273.2,466.0 274.8,469.1 276.4,474.7 278.0,470.8 279.6,469.5 281.2,468.5 282.8,469.1 284.4,466.8 286.0,470.9 287.6,473.9 289.2,475.5 290.8,477.3 292.4,477.7 294.0,480.5 295.6,478.6 297.2,479.0 298.8,478.7 300.4,477.5 302.0,478.1 303.6,476.8 305.2,477.2" fill="none" stroke="#111" stroke-width="1.3" stroke-linejoin="round"/>
<polyline points="89.2,348.7 91.2,351.8 93.2,354.8 95.2,357.8 97.2,360.6 99.2,363.5 101.2,366.2 103.2,368.9 105.2,371.6 107.2,374.1 109.2,376.7 111.2,379.1 113.2,381.5 115.2,383.9 117.2,386.2 119.2,388.5 121.2,390.7 123.2,392.8 125.2,394.9 127.2,397.0 129.2,399.0 131.2,401.0 133.2,402.9 135.2,404.8 137.2,406.6 139.2,408.4 141.2,410.2 143.2,411.9 145.2,413.6 147.2,415.3 149.2,416.9 151.2,418.4 153.2,420.0 155.2,421.5 157.2,423.0 159.2,424.4 161.2,425.8 163.2,427.2 165.2,428.5 167.2,429.9 169.2,431.1 171.2,432.4 173.2,433.6 175.2,434.8 177.2,436.0 179.2,437.2 181.2,438.3 183.2,439.4 185.2,440.5 187.2,441.5 189.2,442.5 191.2,443.6 193.2,444.5 195.2,445.5 197.2,446.4 199.2,447.4 201.2,448.3 203.2,449.1 205.2,450.0 207.2,450.8 209.2,451.7 211.2,452.5 213.2,453.2 215.2,454.0 217.2,454.8 219.2,455.5 221.2,456.2 223.2,456.9 225.2,457.6 227.2,458.3 229.2,458.9 231.2,459.6 233.2,460.2 235.2,460.8 237.2,461.4 239.2,462.0 241.2,462.6 243.2,463.1 245.2,463.7 247.2,464.2 249.2,464.8 251.2,465.3 253.2,465.8 255.2,466.3 257.2,466.7 259.2,467.2 261.2,467.7 263.2,468.1 265.2,468.6 267.2,469.0 269.2,469.4 271.2,469.8 273.2,470.2 275.2,470.6 277.2,471.0 279.2,471.4 281.2,471.7 283.2,472.1 285.2,472.4 287.2,472.8 289.2,473.1 291.2,473.5 293.2,473.8 295.2,474.1 297.2,474.4 299.2,474.7 301.2,475.0 303.2,475.3 305.2,475.6 307.2,475.8" fill="none" stroke="#e8502a" stroke-width="1.0"/>
<circle cx="74.2" cy="510.3" r="3.5" fill="#000"/>
<g clip-path="url(#dclip)">
<ellipse cx="517.4" cy="570" rx="108.2" ry="126" fill="#fdf3f0" stroke="#111" stroke-width="0.9"/>
<ellipse cx="517.8" cy="570" rx="70.6" ry="86" fill="none" stroke="#b8b0b0" stroke-width="0.6"/>
<ellipse cx="517.6" cy="573.8" rx="40.6" ry="57.4" fill="#fef7ea" stroke="#111" stroke-width="0.9"/>
</g>
<line x1="393.8" y1="443.6" x2="499.4" y2="515.5" stroke="#000" stroke-width="1.2"/>
<line x1="396.4" y1="441.7" x2="502" y2="513.1" stroke="#000" stroke-width="1.2"/>
<ellipse cx="506.9" cy="463.8" rx="2.9" ry="2.6" fill="none" stroke="#222" stroke-width="1.0"/>
<ellipse cx="506.9" cy="475.2" rx="2.9" ry="2.6" fill="none" stroke="#222" stroke-width="1.0"/>
<ellipse cx="506.9" cy="486.7" rx="2.9" ry="2.6" fill="none" stroke="#222" stroke-width="1.0"/>
<ellipse cx="506.9" cy="498.2" rx="2.9" ry="2.6" fill="none" stroke="#222" stroke-width="1.0"/>
<ellipse cx="506.9" cy="509.5" rx="2.9" ry="2.6" fill="none" stroke="#222" stroke-width="1.0"/>
<ellipse cx="565.2" cy="463.8" rx="2.9" ry="2.6" fill="none" stroke="#5a4ad0" stroke-width="1.0"/>
<circle cx="580.9" cy="411.9" r="3.3" fill="none" stroke="#222" stroke-width="0.9"/>
<circle cx="580.9" cy="428.0" r="3.3" fill="none" stroke="#5a4ad0" stroke-width="0.9"/>
<text x="588.0" y="415.1" font-size="10.2" text-anchor="start" >ROI 1-5</text>
<text x="588.0" y="431.4" font-size="10.2">ROI for F<tspan font-size="8.2" dy="2.8">back</tspan><tspan dy="-2.8">(t)</tspan></text>
<path d="M601.1,558.3 H612.7 M601.3,557 V559.6 M612.5,557 V559.6" fill="none" stroke="#222" stroke-width="1.1"/>
<text x="606.9" y="567.5" font-size="8.3" text-anchor="middle" fill="#222">100 µm</text>
<line x1="62.8" y1="596.5" x2="62.8" y2="792" stroke="#000" stroke-width="1.5"/>
<line x1="62.099999999999994" y1="785.6" x2="297.4" y2="785.6" stroke="#000" stroke-width="1.5"/>
<line x1="56.2" y1="597.0" x2="62.8" y2="597.0" stroke="#000" stroke-width="1.4"/>
<text x="54.2" y="601.1" font-size="11.6" font-weight="bold" text-anchor="end" >100</text>
<line x1="56.2" y1="634.7" x2="62.8" y2="634.7" stroke="#000" stroke-width="1.4"/>
<text x="54.2" y="638.8" font-size="11.6" font-weight="bold" text-anchor="end" >80</text>
<line x1="56.2" y1="672.4" x2="62.8" y2="672.4" stroke="#000" stroke-width="1.4"/>
<text x="54.2" y="676.5" font-size="11.6" font-weight="bold" text-anchor="end" >60</text>
<line x1="56.2" y1="710.2" x2="62.8" y2="710.2" stroke="#000" stroke-width="1.4"/>
<text x="54.2" y="714.3" font-size="11.6" font-weight="bold" text-anchor="end" >40</text>
<line x1="56.2" y1="747.9" x2="62.8" y2="747.9" stroke="#000" stroke-width="1.4"/>
<text x="54.2" y="752.0" font-size="11.6" font-weight="bold" text-anchor="end" >20</text>
<line x1="56.2" y1="785.6" x2="62.8" y2="785.6" stroke="#000" stroke-width="1.4"/>
<text x="54.2" y="789.7" font-size="11.6" font-weight="bold" text-anchor="end" >0</text>
<line x1="62.8" y1="785.6" x2="62.8" y2="791.8" stroke="#000" stroke-width="1.4"/>
<text x="62.8" y="810.3" font-size="11.6" font-weight="bold" text-anchor="middle" >0</text>
<line x1="121.5" y1="785.6" x2="121.5" y2="791.8" stroke="#000" stroke-width="1.4"/>
<text x="121.5" y="810.3" font-size="11.6" font-weight="bold" text-anchor="middle" >100</text>
<line x1="180.2" y1="785.6" x2="180.2" y2="791.8" stroke="#000" stroke-width="1.4"/>
<text x="180.2" y="810.3" font-size="11.6" font-weight="bold" text-anchor="middle" >200</text>
<line x1="238.9" y1="785.6" x2="238.9" y2="791.8" stroke="#000" stroke-width="1.4"/>
<text x="238.9" y="810.3" font-size="11.6" font-weight="bold" text-anchor="middle" >300</text>
<line x1="297.6" y1="785.6" x2="297.6" y2="791.8" stroke="#000" stroke-width="1.4"/>
<text x="297.6" y="810.3" font-size="11.6" font-weight="bold" text-anchor="middle" >400</text>
<text x="179" y="830.2" font-size="13.6" font-weight="bold" text-anchor="middle">distance [<tspan font-family="Liberation Serif, serif" font-weight="normal">µ</tspan>m]</text>
<text transform="translate(25.2,691) rotate(-90)" font-size="13.5" font-weight="bold" text-anchor="middle">relative intensity [%]</text>
<polyline points="62.8,597.0 121.5,728.4 180.2,744.4 238.9,756.7 297.6,762.4" fill="none" stroke="#000" stroke-width="1"/>
<path d="M117.5,686.3 H125.5 M121.5,686.3 V770.9 M117.5,770.9 H125.5" stroke="#000" stroke-width="0.9" fill="none"/>
<path d="M176.2,710.5 H184.2 M180.2,710.5 V779.3 M176.2,779.3 H184.2" stroke="#000" stroke-width="0.9" fill="none"/>
<path d="M234.9,740.7 H242.9 M238.9,740.7 V772.8 M234.9,772.8 H242.9" stroke="#000" stroke-width="0.9" fill="none"/>
<path d="M293.6,748.3 H301.6 M297.6,748.3 V775.6 M293.6,775.6 H301.6" stroke="#000" stroke-width="0.9" fill="none"/>
<circle cx="62.8" cy="597" r="3.9" fill="#000"/>
<circle cx="121.5" cy="728.4" r="3.9" fill="#000"/>
<circle cx="180.2" cy="744.4" r="3.9" fill="#000"/>
<circle cx="238.9" cy="756.7" r="3.9" fill="#000"/>
<circle cx="297.6" cy="762.4" r="3.9" fill="#000"/>
<line x1="409.1" y1="619.5" x2="409.1" y2="792.6" stroke="#000" stroke-width="1.5"/>
<line x1="408.40000000000003" y1="740.9" x2="638.6" y2="740.9" stroke="#000" stroke-width="1.5"/>
<line x1="401.6" y1="626.6" x2="409.1" y2="626.6" stroke="#000" stroke-width="1.4"/>
<text x="400.4" y="630.6" font-size="11.0" font-weight="bold" text-anchor="end" >100</text>
<line x1="401.6" y1="649.4" x2="409.1" y2="649.4" stroke="#000" stroke-width="1.4"/>
<text x="400.4" y="653.4" font-size="11.0" font-weight="bold" text-anchor="end" >80</text>
<line x1="401.6" y1="672.2" x2="409.1" y2="672.2" stroke="#000" stroke-width="1.4"/>
<text x="400.4" y="676.2" font-size="11.0" font-weight="bold" text-anchor="end" >60</text>
<line x1="401.6" y1="694.9" x2="409.1" y2="694.9" stroke="#000" stroke-width="1.4"/>
<text x="400.4" y="698.9" font-size="11.0" font-weight="bold" text-anchor="end" >40</text>
<line x1="401.6" y1="717.7" x2="409.1" y2="717.7" stroke="#000" stroke-width="1.4"/>
<text x="400.4" y="721.7" font-size="11.0" font-weight="bold" text-anchor="end" >20</text>
<line x1="401.6" y1="740.5" x2="409.1" y2="740.5" stroke="#000" stroke-width="1.4"/>
<text x="400.4" y="744.5" font-size="11.0" font-weight="bold" text-anchor="end" >0</text>
<line x1="401.6" y1="763.3" x2="409.1" y2="763.3" stroke="#000" stroke-width="1.4"/>
<text x="400.4" y="767.3" font-size="11.0" font-weight="bold" text-anchor="end" >-20</text>
<line x1="401.6" y1="786.1" x2="409.1" y2="786.1" stroke="#000" stroke-width="1.4"/>
<text x="400.4" y="790.1" font-size="11.0" font-weight="bold" text-anchor="end" >-40</text>
<line x1="454.8" y1="740.9" x2="454.8" y2="747" stroke="#000" stroke-width="1.4"/>
<text x="454.8" y="762.0" font-size="11.2" font-weight="bold" text-anchor="middle" >1</text>
<line x1="500.4" y1="740.9" x2="500.4" y2="747" stroke="#000" stroke-width="1.4"/>
<text x="500.4" y="762.0" font-size="11.2" font-weight="bold" text-anchor="middle" >2</text>
<line x1="546.0" y1="740.9" x2="546.0" y2="747" stroke="#000" stroke-width="1.4"/>
<text x="546.0" y="762.0" font-size="11.2" font-weight="bold" text-anchor="middle" >3</text>
<line x1="591.7" y1="740.9" x2="591.7" y2="747" stroke="#000" stroke-width="1.4"/>
<text x="591.7" y="762.0" font-size="11.2" font-weight="bold" text-anchor="middle" >4</text>
<line x1="637.4" y1="740.9" x2="637.4" y2="747" stroke="#000" stroke-width="1.4"/>
<text x="637.4" y="762.0" font-size="11.2" font-weight="bold" text-anchor="middle" >5</text>
<text x="523.6" y="778.3" font-size="13.3" font-weight="bold" text-anchor="middle" >t [sec]</text>
<text transform="translate(371.2,690.5) rotate(-90)" font-size="13.5" font-weight="bold" text-anchor="middle">relative intensity [%]</text>
<polyline points="410.9,791.3 412.1,790.0 413.3,790.2 414.5,789.7 415.7,788.5 416.9,787.9 418.1,787.4 419.3,787.8 420.5,787.4 421.7,787.1 422.9,787.2 424.1,787.4 425.3,788.2 426.5,788.5 427.7,788.4 428.9,788.4 430.1,788.4 431.3,787.5 432.5,786.8 433.7,785.3 434.9,783.5 436.1,784.0 437.3,784.3 438.5,781.9 439.7,778.1 440.9,773.3 442.1,768.3 443.3,764.4 444.5,759.9 445.7,756.5 446.9,752.2 448.1,746.9 449.3,741.7 450.5,736.9 451.7,732.5 452.9,727.2 454.1,723.7 455.3,720.0 456.5,715.1 457.7,710.0 458.9,705.4 460.1,702.6 461.3,699.3 462.5,695.5 463.7,692.1 464.9,688.6 466.1,683.3 467.3,679.7 468.5,674.1 469.7,669.3 470.9,664.4 472.1,659.9 473.3,654.7 474.5,649.5 475.7,645.8 476.9,642.4 478.1,638.2 479.3,635.4 480.5,632.9 481.7,630.3 482.9,627.8 484.1,625.4 485.3,621.6 486.5,620.7 487.7,624.6 488.9,627.6 490.1,628.7 491.3,630.2 492.5,632.0 493.7,633.9 494.9,634.7 496.1,636.5 497.3,637.9 498.5,640.5 499.7,642.0 500.9,643.2 502.1,645.5 503.3,647.5 504.5,648.9 505.7,650.7 506.9,651.7 508.1,655.2 509.3,655.8 510.5,657.8 511.7,659.3 512.9,662.0 514.1,663.9 515.3,666.0 516.5,668.4 517.7,671.0 518.9,673.1 520.1,675.5 521.3,678.1 522.5,680.2 523.7,681.6 524.9,683.3 526.1,685.1 527.3,687.7 528.5,690.0 529.7,691.1 530.9,693.2 532.1,694.3 533.3,695.4 534.5,695.5 535.7,696.2 536.9,697.0 538.1,696.8 539.3,697.8 540.5,698.5 541.7,699.7 542.9,699.8 544.1,700.1 545.3,701.0 546.5,700.9 547.7,702.3 548.9,703.2 550.1,703.8 551.3,703.7 552.5,704.6 553.7,706.0 554.9,706.4 556.1,706.6 557.3,707.1 558.5,707.4 559.7,707.7 560.9,707.8 562.1,707.7 563.3,706.8 564.5,706.8 565.7,706.2 566.9,705.4 568.1,705.2 569.3,706.1 570.5,705.5 571.7,706.8 572.9,706.0 574.1,706.4 575.3,705.2 576.5,705.4 577.7,704.9 578.9,704.5 580.1,704.1 581.3,705.3 582.5,705.2 583.7,706.4 584.9,706.7 586.1,707.6 587.3,707.2 588.5,708.3 589.7,708.3 590.9,709.4 592.1,709.3 593.3,709.6 594.5,710.5 595.7,710.2 596.9,710.9 598.1,711.7 599.3,712.9 600.5,714.1 601.7,715.1 602.9,717.1 604.1,717.6 605.3,718.0 606.5,718.8 607.7,719.7 608.9,721.2 610.1,722.1 611.3,722.6 612.5,723.4 613.7,725.6 614.9,726.2 616.1,728.1 617.3,729.5 618.5,730.6 619.7,732.5 620.9,734.6 622.1,735.6 623.3,738.0 624.5,739.2 625.7,740.2 626.9,741.7 628.1,743.5 629.3,743.9 630.5,745.7 631.7,747.1 632.9,748.1 634.1,748.6 635.3,750.5 636.5,751.1 637.7,751.6" fill="none" stroke="#222" stroke-width="1.05" stroke-linejoin="round"/>
<polyline points="410.9,746.3 412.1,745.0 413.3,744.9 414.5,744.4 415.7,744.6 416.9,744.5 418.1,744.2 419.3,744.5 420.5,744.2 421.7,745.7 422.9,746.2 424.1,748.2 425.3,748.7 426.5,748.9 427.7,748.8 428.9,749.7 430.1,750.2 431.3,750.4 432.5,750.3 433.7,751.5 434.9,751.8 436.1,752.9 437.3,754.4 438.5,756.8 439.7,755.3 440.9,754.4 442.1,752.8 443.3,751.9 444.5,752.9 445.7,752.3 446.9,751.6 448.1,751.3 449.3,749.0 450.5,746.3 451.7,742.7 452.9,738.6 454.1,737.5 455.3,736.5 456.5,734.1 457.7,731.6 458.9,729.7 460.1,728.1 461.3,726.9 462.5,726.3 463.7,724.9 464.9,723.9 466.1,721.9 467.3,719.5 468.5,718.3 469.7,716.3 470.9,715.6 472.1,713.5 473.3,712.8 474.5,712.2 475.7,711.5 476.9,709.1 478.1,708.1 479.3,706.1 480.5,704.9 481.7,703.2 482.9,701.2 484.1,698.9 485.3,696.7 486.5,697.0 487.7,698.5 488.9,699.8 490.1,701.3 491.3,702.1 492.5,702.4 493.7,704.3 494.9,704.8 496.1,705.7 497.3,707.3 498.5,707.8 499.7,709.1 500.9,710.3 502.1,711.1 503.3,712.8 504.5,714.2 505.7,715.7 506.9,717.0 508.1,717.1 509.3,718.4 510.5,719.7 511.7,720.4 512.9,721.4 514.1,722.0 515.3,722.1 516.5,722.7 517.7,722.9 518.9,723.9 520.1,722.7 521.3,724.3 522.5,721.9 523.7,720.6 524.9,721.3 526.1,722.6 527.3,722.4 528.5,723.9 529.7,725.3 530.9,726.8 532.1,726.5 533.3,726.4 534.5,726.1 535.7,725.4 536.9,726.5 538.1,727.0 539.3,728.1 540.5,727.8 541.7,728.6 542.9,729.6 544.1,729.3 545.3,728.7 546.5,728.0 547.7,727.6 548.9,727.0 550.1,726.9 551.3,728.0 552.5,727.9 553.7,728.1 554.9,728.6 556.1,729.2 557.3,730.3 558.5,729.5 559.7,729.7 560.9,729.9 562.1,729.3 563.3,729.8 564.5,729.7 565.7,729.1 566.9,729.1 568.1,730.6 569.3,731.5 570.5,731.5 571.7,731.7 572.9,733.1 574.1,733.0 575.3,733.9 576.5,733.7 577.7,732.9 578.9,732.6 580.1,732.6 581.3,732.9 582.5,732.9 583.7,732.2 584.9,733.7 586.1,733.8 587.3,733.8 588.5,734.4 589.7,734.2 590.9,734.4 592.1,734.1 593.3,734.7 594.5,734.3 595.7,734.5 596.9,736.8 598.1,737.7 599.3,739.0 600.5,740.7 601.7,741.0 602.9,741.9 604.1,742.6 605.3,741.9 606.5,741.0 607.7,740.7 608.9,740.6 610.1,740.8 611.3,740.5 612.5,740.5 613.7,740.2 614.9,740.0 616.1,741.5 617.3,742.1 618.5,742.9 619.7,743.6 620.9,744.4 622.1,746.8 623.3,746.8 624.5,748.3 625.7,748.9 626.9,750.6 628.1,751.3 629.3,752.4 630.5,753.1 631.7,754.4 632.9,754.4 634.1,755.6 635.3,756.8 636.5,757.8" fill="none" stroke="#e8553a" stroke-width="1.05" stroke-linejoin="round"/>
<polyline points="410.9,749.8 412.1,747.9 413.3,747.3 414.5,746.5 415.7,746.1 416.9,745.0 418.1,745.0 419.3,744.5 420.5,745.1 421.7,745.5 422.9,747.0 424.1,747.4 425.3,749.1 426.5,751.0 427.7,752.4 428.9,752.1 430.1,751.9 431.3,752.4 432.5,752.9 433.7,754.4 434.9,754.9 436.1,756.3 437.3,756.9 438.5,756.4 439.7,755.2 440.9,755.2 442.1,753.9 443.3,751.9 444.5,751.0 445.7,752.0 446.9,753.7 448.1,753.8 449.3,755.0 450.5,754.8 451.7,754.2 452.9,753.3 454.1,753.0 455.3,751.0 456.5,749.3 457.7,745.9 458.9,744.8 460.1,744.1 461.3,743.4 462.5,742.6 463.7,740.9 464.9,741.8 466.1,739.7 467.3,738.3 468.5,737.9 469.7,736.4 470.9,735.6 472.1,734.2 473.3,733.1 474.5,732.4 475.7,730.6 476.9,729.3 478.1,728.3 479.3,725.9 480.5,724.7 481.7,724.4 482.9,721.2 484.1,719.0 485.3,717.5 486.5,714.7 487.7,713.4 488.9,715.2 490.1,716.1 491.3,717.5 492.5,717.4 493.7,717.5 494.9,716.7 496.1,716.6 497.3,715.9 498.5,716.2 499.7,717.0 500.9,717.1 502.1,718.2 503.3,718.6 504.5,718.9 505.7,719.7 506.9,721.3 508.1,723.0 509.3,724.8 510.5,725.4 511.7,727.6 512.9,728.7 514.1,729.7 515.3,731.1 516.5,732.4 517.7,733.3 518.9,734.2 520.1,735.2 521.3,736.5 522.5,735.1 523.7,734.9 524.9,734.4 526.1,734.4 527.3,734.2 528.5,733.7 529.7,732.9 530.9,733.2 532.1,732.2 533.3,732.4 534.5,731.6 535.7,730.9 536.9,730.7 538.1,730.1 539.3,730.9 540.5,731.1 541.7,731.1 542.9,731.4 544.1,731.2 545.3,731.4 546.5,731.6 547.7,732.9 548.9,733.2 550.1,733.1 551.3,733.5 552.5,732.8 553.7,732.5 554.9,731.2 556.1,730.2 557.3,728.5 558.5,726.9 559.7,725.8 560.9,724.6 562.1,723.7 563.3,724.1 564.5,723.3 565.7,724.1 566.9,722.8 568.1,722.4 569.3,722.6 570.5,721.8 571.7,721.9 572.9,722.0 574.1,721.5 575.3,722.2 576.5,722.7 577.7,723.1 578.9,723.9 580.1,723.5 581.3,723.5 582.5,724.1 583.7,724.8 584.9,725.8 586.1,726.4 587.3,728.0 588.5,728.5 589.7,728.9 590.9,730.4 592.1,730.9 593.3,731.7 594.5,732.6 595.7,733.2 596.9,734.4 598.1,735.7 599.3,736.3 600.5,737.0 601.7,738.4 602.9,738.3 604.1,739.1 605.3,739.3 606.5,740.0 607.7,740.1 608.9,740.5 610.1,740.2 611.3,740.8 612.5,740.9 613.7,741.0 614.9,742.1 616.1,741.9 617.3,743.2 618.5,745.1 619.7,746.3 620.9,747.3 622.1,749.0 623.3,750.8 624.5,752.1 625.7,752.4 626.9,753.7 628.1,754.3 629.3,755.2 630.5,755.8 631.7,756.8 632.9,758.1 634.1,757.8 635.3,758.8 636.5,760.5" fill="none" stroke="#3a9a5a" stroke-width="1.05" stroke-linejoin="round"/>
<polyline points="410.9,764.6 412.1,763.0 413.3,761.8 414.5,761.2 415.7,760.3 416.9,758.3 418.1,758.8 419.3,758.4 420.5,758.6 421.7,759.3 422.9,758.6 424.1,759.3 425.3,759.5 426.5,759.1 427.7,758.9 428.9,758.9 430.1,759.0 431.3,759.3 432.5,758.9 433.7,759.1 434.9,759.2 436.1,759.7 437.3,760.6 438.5,761.6 439.7,760.3 440.9,759.5 442.1,758.6 443.3,758.9 444.5,758.6 445.7,759.8 446.9,759.0 448.1,759.2 449.3,758.6 450.5,758.8 451.7,758.2 452.9,756.6 454.1,755.7 455.3,756.1 456.5,752.4 457.7,747.2 458.9,745.8 460.1,744.0 461.3,743.0 462.5,741.6 463.7,741.0 464.9,739.0 466.1,737.9 467.3,736.3 468.5,734.7 469.7,733.3 470.9,732.1 472.1,731.3 473.3,729.5 474.5,728.0 475.7,727.1 476.9,726.0 478.1,725.4 479.3,723.3 480.5,722.4 481.7,720.6 482.9,718.6 484.1,716.2 485.3,713.5 486.5,713.1 487.7,713.7 488.9,714.1 490.1,713.5 491.3,713.6 492.5,712.3 493.7,713.1 494.9,712.4 496.1,712.5 497.3,711.2 498.5,710.2 499.7,710.5 500.9,710.3 502.1,712.2 503.3,713.0 504.5,714.4 505.7,716.4 506.9,717.3 508.1,719.8 509.3,720.3 510.5,721.2 511.7,722.3 512.9,723.2 514.1,724.2 515.3,724.3 516.5,724.1 517.7,724.4 518.9,723.6 520.1,724.1 521.3,723.0 522.5,722.0 523.7,722.7 524.9,722.8 526.1,723.0 527.3,723.9 528.5,724.5 529.7,725.1 530.9,725.9 532.1,725.7 533.3,727.1 534.5,725.9 535.7,726.7 536.9,726.7 538.1,727.6 539.3,727.4 540.5,727.3 541.7,727.7 542.9,728.0 544.1,728.7 545.3,729.8 546.5,729.7 547.7,730.7 548.9,731.3 550.1,731.4 551.3,732.6 552.5,732.0 553.7,732.3 554.9,731.7 556.1,731.6 557.3,730.8 558.5,729.0 559.7,727.6 560.9,726.3 562.1,726.3 563.3,726.1 564.5,725.0 565.7,724.4 566.9,725.3 568.1,725.7 569.3,726.0 570.5,727.1 571.7,727.6 572.9,728.9 574.1,730.2 575.3,729.7 576.5,728.9 577.7,728.9 578.9,728.4 580.1,728.2 581.3,727.5 582.5,727.2 583.7,726.6 584.9,727.2 586.1,728.3 587.3,728.6 588.5,729.2 589.7,728.5 590.9,727.1 592.1,727.1 593.3,727.1 594.5,728.2 595.7,728.7 596.9,729.0 598.1,728.4 599.3,728.6 600.5,728.5 601.7,728.6 602.9,727.5 604.1,727.7 605.3,727.7 606.5,728.8 607.7,728.4 608.9,729.0 610.1,729.9 611.3,730.9 612.5,731.7 613.7,732.6 614.9,732.7 616.1,734.6 617.3,734.8 618.5,735.1 619.7,736.0 620.9,737.6 622.1,739.0 623.3,739.5 624.5,742.1 625.7,742.1 626.9,742.2 628.1,743.7 629.3,743.8 630.5,743.9 631.7,745.2 632.9,745.2 634.1,745.6 635.3,746.3 636.5,746.1" fill="none" stroke="#5a3cc8" stroke-width="1.05" stroke-linejoin="round"/>
<polyline points="410.9,762.0 412.1,760.9 413.3,759.8 414.5,758.6 415.7,757.6 416.9,756.7 418.1,757.1 419.3,756.4 420.5,755.5 421.7,755.9 422.9,755.8 424.1,756.7 425.3,757.1 426.5,757.1 427.7,756.8 428.9,756.1 430.1,756.5 431.3,756.2 432.5,755.8 433.7,756.1 434.9,756.9 436.1,756.9 437.3,757.3 438.5,757.2 439.7,756.8 440.9,756.9 442.1,756.8 443.3,757.5 444.5,758.4 445.7,758.4 446.9,759.0 448.1,759.9 449.3,759.3 450.5,759.2 451.7,759.1 452.9,756.6 454.1,754.1 455.3,751.2 456.5,748.7 457.7,746.5 458.9,744.0 460.1,742.8 461.3,741.8 462.5,740.3 463.7,739.6 464.9,738.2 466.1,737.6 467.3,735.7 468.5,735.2 469.7,733.9 470.9,733.3 472.1,732.1 473.3,731.1 474.5,728.8 475.7,727.6 476.9,726.6 478.1,725.2 479.3,723.9 480.5,722.4 481.7,721.6 482.9,720.4 484.1,718.2 485.3,716.4 486.5,716.0 487.7,716.3 488.9,716.2 490.1,716.5 491.3,715.8 492.5,714.8 493.7,714.2 494.9,714.1 496.1,713.9 497.3,714.5 498.5,714.0 499.7,714.7 500.9,715.4 502.1,715.3 503.3,717.1 504.5,718.6 505.7,720.3 506.9,720.8 508.1,721.8 509.3,722.6 510.5,722.6 511.7,723.6 512.9,723.9 514.1,725.0 515.3,726.0 516.5,725.8 517.7,726.1 518.9,726.2 520.1,726.1 521.3,725.7 522.5,723.9 523.7,723.8 524.9,723.4 526.1,724.4 527.3,725.1 528.5,724.9 529.7,725.5 530.9,726.9 532.1,726.6 533.3,728.5 534.5,727.9 535.7,727.7 536.9,728.9 538.1,729.2 539.3,729.2 540.5,728.7 541.7,728.2 542.9,727.7 544.1,728.4 545.3,728.3 546.5,729.1 547.7,729.4 548.9,730.0 550.1,730.1 551.3,730.6 552.5,729.8 553.7,729.2 554.9,728.6 556.1,728.8 557.3,727.0 558.5,725.4 559.7,724.6 560.9,724.2 562.1,723.3 563.3,723.0 564.5,722.9 565.7,723.6 566.9,724.1 568.1,723.7 569.3,724.8 570.5,724.4 571.7,725.2 572.9,724.3 574.1,724.7 575.3,724.0 576.5,722.8 577.7,722.4 578.9,721.5 580.1,720.9 581.3,720.2 582.5,719.1 583.7,718.1 584.9,718.0 586.1,717.8 587.3,717.0 588.5,716.7 589.7,715.4 590.9,715.7 592.1,716.8 593.3,717.9 594.5,718.9 595.7,719.6 596.9,719.6 598.1,720.7 599.3,721.0 600.5,721.3 601.7,722.4 602.9,723.2 604.1,723.3 605.3,723.9 606.5,724.9 607.7,725.3 608.9,725.7 610.1,727.2 611.3,727.6 612.5,728.7 613.7,729.6 614.9,730.8 616.1,732.1 617.3,733.7 618.5,734.9 619.7,736.5 620.9,738.7 622.1,740.4 623.3,741.8 624.5,743.0 625.7,744.7 626.9,747.1 628.1,747.4 629.3,748.7 630.5,750.1 631.7,751.0 632.9,752.3 634.1,754.0 635.3,754.2 636.5,756.0" fill="none" stroke="#a650d8" stroke-width="1.05" stroke-linejoin="round"/>
<line x1="572.2" y1="625.4" x2="593.7" y2="625.4" stroke="#222" stroke-width="1.3"/>
<text x="606.9" y="629.5" font-size="11.2" text-anchor="start" >0 µm</text>
<line x1="572.2" y1="641.8" x2="593.7" y2="641.8" stroke="#e8553a" stroke-width="1.3"/>
<text x="606.9" y="645.9" font-size="11.2" text-anchor="start" >100 µm</text>
<line x1="572.2" y1="658.1" x2="593.7" y2="658.1" stroke="#5a3cc8" stroke-width="1.3"/>
<text x="606.9" y="662.2" font-size="11.2" text-anchor="start" >200 µm</text>
<line x1="572.2" y1="674.0" x2="593.7" y2="674.0" stroke="#3a9a5a" stroke-width="1.3"/>
<text x="606.9" y="678.1" font-size="11.2" text-anchor="start" >300 µm</text>
<line x1="572.2" y1="689.9" x2="593.7" y2="689.9" stroke="#a650d8" stroke-width="1.3"/>
<text x="606.9" y="694.0" font-size="11.2" text-anchor="start" >400 µm</text>
</svg></body></html>
